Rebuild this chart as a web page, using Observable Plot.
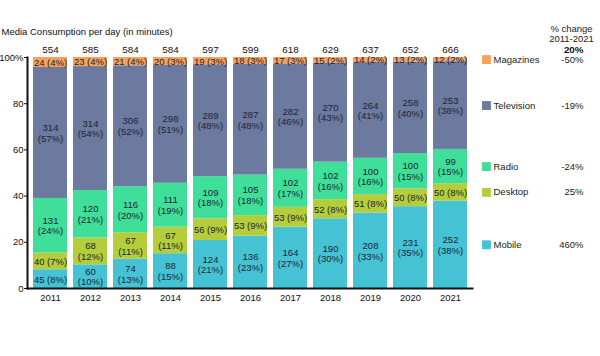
<!DOCTYPE html>
<html>
<head>
<meta charset="utf-8">
<script src="https://cdn.jsdelivr.net/npm/d3@7"></script>
<script src="https://cdn.jsdelivr.net/npm/@observablehq/plot@0.6"></script>
<style>
  html, body { margin: 0; padding: 0; background: #ffffff; }
  #chart svg { display: block; }
</style>
</head>
<body>
<div id="chart"></div>
<script>
const title = "Media Consumption per day (in minutes)";
const years = ["2011", "2012", "2013", "2014", "2015", "2016", "2017", "2018", "2019", "2020", "2021"];
const categories = ["Mobile", "Desktop", "Radio", "Television", "Magazines"];
const mobile     = [45, 60, 74, 88, 124, 136, 164, 190, 208, 231, 252];
const desktop    = [40, 68, 67, 67, 56, 53, 53, 52, 51, 50, 50];
const radio      = [131, 120, 116, 111, 109, 105, 102, 102, 100, 100, 99];
const television = [314, 314, 306, 298, 289, 287, 282, 270, 264, 258, 253];
const magazines  = [24, 23, 21, 20, 19, 18, 17, 15, 14, 13, 12];
const colors = ["#45c3d4", "#b5cd3a", "#3fdf99", "#6b7a9e", "#f7a15d"];
const yTicks = [0, 0.2, 0.4, 0.6, 0.8, 1];
const changeHeader = ["% change", "2011-2021"];

const series = {Mobile: mobile, Desktop: desktop, Radio: radio, Television: television, Magazines: magazines};
const rows = [];
years.forEach((year, i) => {
  categories.forEach(cat => rows.push({year, cat, value: series[cat][i]}));
});
const totals = years.map((year, i) => ({year, total: d3.sum(categories, c => series[c][i])}));
const totalByYear = new Map(totals.map(d => [d.year, d.total]));
const pct = d => Math.round(100 * d.value / totalByYear.get(d.year));
const label = d => pct(d) >= 10 ? `${d.value}\n(${pct(d)}%)` : `${d.value} (${pct(d)}%)`;

const last = years.length - 1;
const lastRows = rows.filter(d => d.year === years[last]);
const fmtChange = v => `${v > 0 ? "" : ""}${Math.round(v)}%`;
const changeOf = cat => fmtChange(100 * (series[cat][last] / series[cat][0] - 1));
const totalChange = fmtChange(100 * (totals[last].total / totals[0].total - 1));

const font = "Liberation Sans, Arial, sans-serif";
const stackOpts = {x: "year", y: "value", z: "cat", offset: "normalize", order: categories};

const chart = Plot.plot({
  width: 600,
  height: 356,
  marginTop: 57,
  marginBottom: 68,
  marginLeft: 27,
  marginRight: 128,
  style: {fontFamily: font, fontSize: "9.5px", background: "#ffffff", color: "#111"},
  x: {domain: years, paddingInner: 0.15, paddingOuter: 0.1, label: null},
  y: {domain: [0, 1], label: null},
  color: {domain: categories, range: colors},
  marks: [
    Plot.barY(rows, Plot.stackY({...stackOpts, fill: "cat"})),
    Plot.text(rows, Plot.stackY({...stackOpts, text: label, fill: "#1c2433", fontSize: 9.5, lineHeight: 1.12})),
    Plot.text(totals, {x: "year", y: () => 1, text: d => String(d.total), dy: -8, fill: "#111", fontSize: 9.8}),
    Plot.frame({anchor: "left", stroke: "#111", strokeWidth: 2}),
    Plot.frame({anchor: "bottom", stroke: "#111", strokeWidth: 2}),
    Plot.axisX({tickSize: 0, tickPadding: 6, fontSize: 9.5, fill: "#111", label: null}),
    Plot.axisY({ticks: yTicks, tickSize: 3, tickPadding: 1, fontSize: 9.5, label: null,
      tickFormat: d => d === 1 ? "100%" : String(Math.round(d * 100))}),
    // legend swatches and labels, aligned with the 2021 segments
    Plot.dot(lastRows, Plot.stackY({...stackOpts, fill: "cat", symbol: "square", r: 5, dx: 36})),
    Plot.text(lastRows, Plot.stackY({...stackOpts, text: "cat", dx: 43, textAnchor: "start", fill: "#222", fontSize: 9.5})),
    Plot.text(lastRows, Plot.stackY({...stackOpts, text: d => changeOf(d.cat), dx: 133, textAnchor: "end", fill: "#222", fontSize: 9.5})),
    // % change header
    Plot.text([changeHeader[0]], {x: () => years[last], y: () => 1, text: d => d, dx: 121, dy: -29, fill: "#222", fontSize: 9.5}),
    Plot.text([changeHeader[1]], {x: () => years[last], y: () => 1, text: d => d, dx: 121, dy: -18.5, fill: "#222", fontSize: 9.5}),
    Plot.text([totalChange], {x: () => years[last], y: () => 1, text: d => d, dx: 133, dy: -8, textAnchor: "end", fontWeight: "bold", fill: "#111", fontSize: 9.8}),
    // title
    Plot.text([title], {frameAnchor: "top-left", text: d => d, dx: -26, dy: -26, lineAnchor: "middle", textAnchor: "start", fill: "#111", fontSize: 9.5})
  ]
});
document.getElementById("chart").appendChild(chart);
</script>
</body>
</html>
